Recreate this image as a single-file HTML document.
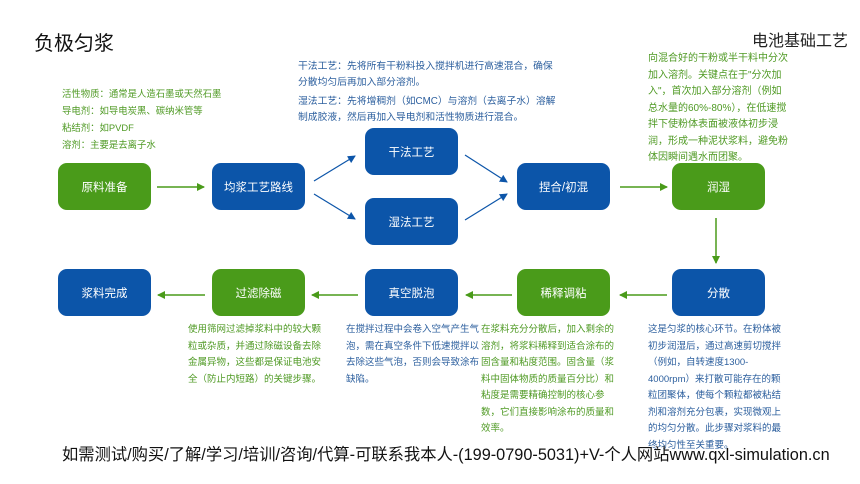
<!DOCTYPE html>
<html><head><meta charset="utf-8"><style>
body{margin:0;width:860px;height:484px;background:#fff;position:relative;overflow:hidden;font-family:"Liberation Sans","Noto Sans CJK SC",sans-serif}
.a{position:absolute}
.b{position:absolute;width:93px;height:47px;border-radius:9px;color:#fff;font-size:11.5px;display:flex;align-items:center;justify-content:center}
.g{background:#4a9b1a}.u{background:#0c55a9}
.tg{color:#4f9a24}.tb{color:#2c5f9e}
.t{position:absolute;font-size:10px;line-height:16.5px}
.bt{font-size:9.5px;width:134px}
</style></head><body>
<div class="a" style="left:34px;top:27px;font-size:20px;color:#111">负极匀浆</div>
<div class="a" style="right:12px;top:27px;font-size:16px;color:#222">电池基础工艺</div>
<div class="t tg" style="left:62px;top:85px;line-height:17px;font-size:9.4px">活性物质：通常是人造石墨或天然石墨<br>导电剂：如导电炭黑、碳纳米管等<br>粘结剂：如PVDF<br>溶剂：主要是去离子水</div>
<div class="t tb" style="left:298px;top:59px;width:262px;line-height:15.5px;font-size:9.8px">干法工艺：先将所有干粉料投入搅拌机进行高速混合，确保分散均匀后再加入部分溶剂。<div style="height:4px"></div>湿法工艺：先将增稠剂（如CMC）与溶剂（去离子水）溶解制成胶液，然后再加入导电剂和活性物质进行混合。</div>
<div class="t tg" style="left:648px;top:51px;width:143px">向混合好的干粉或半干料中分次加入溶剂。关键点在于"分次加入"，首次加入部分溶剂（例如总水量的60%-80%），在低速搅拌下使粉体表面被液体初步浸润，形成一种泥状浆料，避免粉体因瞬间遇水而团聚。</div>
<div class="b g" style="left:58px;top:163px">原料准备</div>
<div class="b u" style="left:212px;top:163px">均浆工艺路线</div>
<div class="b u" style="left:365px;top:128px">干法工艺</div>
<div class="b u" style="left:365px;top:198px">湿法工艺</div>
<div class="b u" style="left:517px;top:163px">捏合/初混</div>
<div class="b g" style="left:672px;top:163px">润湿</div>
<div class="b u" style="left:58px;top:269px">浆料完成</div>
<div class="b g" style="left:212px;top:269px">过滤除磁</div>
<div class="b u" style="left:365px;top:269px">真空脱泡</div>
<div class="b g" style="left:517px;top:269px">稀释调粘</div>
<div class="b u" style="left:672px;top:269px">分散</div>
<svg class="a" style="left:0;top:0" width="860" height="484">
<defs>
<marker id="mg" markerWidth="8" markerHeight="8" refX="7" refY="4" orient="auto" markerUnits="userSpaceOnUse"><path d="M0,0L8,4L0,8z" fill="#4a9b1a"/></marker>
<marker id="mb" markerWidth="8" markerHeight="8" refX="7" refY="4" orient="auto" markerUnits="userSpaceOnUse"><path d="M0,0L8,4L0,8z" fill="#0c55a9"/></marker>
</defs>
<g stroke="#4a9b1a" stroke-width="1.5" fill="none" marker-end="url(#mg)">
<line x1="157" y1="187" x2="204" y2="187"/>
<line x1="620" y1="187" x2="667" y2="187"/>
<line x1="716" y1="218" x2="716" y2="263"/>
<line x1="667" y1="295" x2="620" y2="295"/>
<line x1="512" y1="295" x2="466" y2="295"/>
<line x1="358" y1="295" x2="312" y2="295"/>
<line x1="205" y1="295" x2="158" y2="295"/>
</g>
<g stroke="#0c55a9" stroke-width="1.2" fill="none" marker-end="url(#mb)">
<line x1="314" y1="181" x2="355" y2="156"/>
<line x1="314" y1="194" x2="355" y2="219"/>
<line x1="465" y1="155" x2="507" y2="182"/>
<line x1="465" y1="220" x2="507" y2="194"/>
</g>
</svg>
<div class="t tg bt" style="left:188px;top:322px">使用筛网过滤掉浆料中的较大颗粒或杂质，并通过除磁设备去除金属异物，这些都是保证电池安全（防止内短路）的关键步骤。</div>
<div class="t tb bt" style="left:346px;top:322px">在搅拌过程中会卷入空气产生气泡，需在真空条件下低速搅拌以去除这些气泡，否则会导致涂布缺陷。</div>
<div class="t tg bt" style="left:481px;top:322px">在浆料充分分散后，加入剩余的溶剂，将浆料稀释到适合涂布的固含量和粘度范围。固含量（浆料中固体物质的质量百分比）和粘度是需要精确控制的核心参数，它们直接影响涂布的质量和效率。</div>
<div class="t tb bt" style="left:648px;top:322px;width:138px">这是匀浆的核心环节。在粉体被初步润湿后，通过高速剪切搅拌（例如，自转速度1300-4000rpm）来打散可能存在的颗粒团聚体，使每个颗粒都被粘结剂和溶剂充分包裹，实现微观上的均匀分散。此步骤对浆料的最终均匀性至关重要。</div>
<div class="a" style="left:62px;top:441px;font-size:16.3px;color:#111;white-space:nowrap">如需测试/购买/了解/学习/培训/咨询/代算-可联系我本人-(199-0790-5031)+V-个人网站www.qxl-simulation.cn</div>
</body></html>
